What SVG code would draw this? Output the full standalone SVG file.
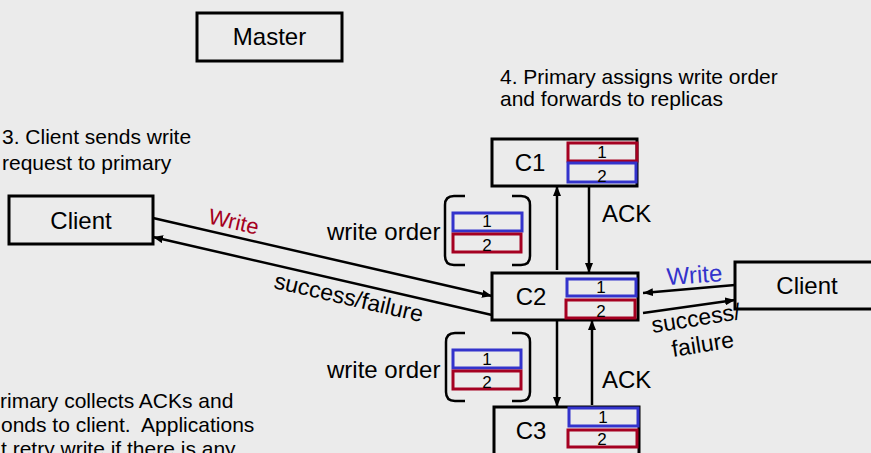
<svg xmlns="http://www.w3.org/2000/svg" width="871" height="453" viewBox="0 0 871 453">
<defs>
<marker id="ah" viewBox="0 0 10 8" refX="10" refY="4" markerWidth="10" markerHeight="8" markerUnits="userSpaceOnUse" orient="auto">
<path d="M0,0 L10,4 L0,8 Z" fill="#000"/>
</marker>
</defs>
<style>
text{font-family:"Liberation Sans",Arial,sans-serif;fill:#000}
.box{fill:none;stroke:#000;stroke-width:3}
.lbl{font-size:24px;text-anchor:middle}
.note{font-size:21px}
.blue{fill:none;stroke:#3333cc;stroke-width:3}
.red{fill:none;stroke:#a50021;stroke-width:3}
.d{font-size:17px;text-anchor:middle}
.cn{fill:none;stroke:#000;stroke-width:2.5}
.br{fill:none;stroke:#000;stroke-width:2.5}
</style>
<rect width="871" height="453" fill="#ebebeb"/>

<g id="connectors">
<path class="cn" d="M153,218 L492,296" marker-end="url(#ah)"/>
<path class="cn" d="M492,315 L153,237" marker-end="url(#ah)"/>
<path class="cn" d="M557,270 L557,186" marker-end="url(#ah)"/>
<path class="cn" d="M589,186 L589,273" marker-end="url(#ah)"/>
<path class="cn" d="M557,320 L557,407" marker-end="url(#ah)"/>
<path class="cn" d="M592,405 L592,320" marker-end="url(#ah)"/>
<path class="cn" d="M735,285 L643,293" marker-end="url(#ah)"/>
<path class="cn" d="M643,313 L735,300" marker-end="url(#ah)"/>
</g>

<g id="labels">
<text transform="translate(232,229) rotate(13)" font-size="22" text-anchor="middle" style="fill:#a50021">Write</text>
<text transform="translate(347,305) rotate(13)" font-size="23" text-anchor="middle">success/failure</text>
<text transform="translate(695,283) rotate(-4)" font-size="24" text-anchor="middle" style="fill:#3333cc">Write</text>
<text transform="translate(697,326) rotate(-9)" font-size="23" text-anchor="middle">success/</text>
<text transform="translate(704,352) rotate(-9)" font-size="23" text-anchor="middle">failure</text>
<text class="lbl" x="602" y="222" text-anchor="start" style="text-anchor:start">ACK</text>
<text class="lbl" x="602" y="388" style="text-anchor:start">ACK</text>
</g>

<g id="master">
<rect class="box" x="197" y="13" width="145" height="48"/>
<text class="lbl" x="269.5" y="45">Master</text>
</g>

<g id="client-left">
<rect class="box" x="9" y="196" width="144" height="48"/>
<text class="lbl" x="81" y="229">Client</text>
</g>

<g id="client-right">
<rect class="box" x="735" y="262" width="145" height="47"/>
<text class="lbl" x="807" y="294">Client</text>
</g>

<g id="c1">
<rect class="box" x="492" y="139" width="145" height="47"/>
<text class="lbl" x="530" y="171">C1</text>
<rect class="red" x="568" y="143" width="69" height="18"/>
<text class="d" x="602" y="158">1</text>
<rect class="blue" x="568" y="163" width="68" height="19"/>
<text class="d" x="602" y="182">2</text>
</g>

<g id="c2">
<rect class="box" x="492" y="273" width="146" height="47"/>
<text class="lbl" x="531" y="305">C2</text>
<rect class="blue" x="567" y="279" width="69" height="17"/>
<text class="d" x="601" y="293">1</text>
<rect class="red" x="566" y="300" width="69" height="18"/>
<text class="d" x="601" y="317">2</text>
</g>

<g id="c3">
<rect class="box" x="494" y="407" width="145" height="60"/>
<text class="lbl" x="531" y="439">C3</text>
<rect class="blue" x="569" y="408" width="69" height="18"/>
<text class="d" x="603" y="423">1</text>
<rect class="red" x="568" y="430" width="69" height="17"/>
<text class="d" x="602" y="445">2</text>
</g>

<g id="write-order-top">
<text class="lbl" x="327" y="240" style="text-anchor:start">write order</text>
<path class="br" d="M465,196 L454,196 Q445,196 445,205 L445,256 Q445,265 454,265 L465,265"/>
<path class="br" d="M512,196 L521,196 Q530,196 530,205 L530,256 Q530,265 521,265 L512,265"/>
<rect class="blue" x="453" y="213" width="69" height="18"/>
<text class="d" x="487" y="227">1</text>
<rect class="red" x="453" y="234" width="68" height="18"/>
<text class="d" x="487" y="251">2</text>
</g>

<g id="write-order-bottom">
<text class="lbl" x="327" y="378" style="text-anchor:start">write order</text>
<path class="br" d="M465,333 L455,333 Q446,333 446,342 L446,392 Q446,401 455,401 L465,401"/>
<path class="br" d="M512,333 L521,333 Q530,333 530,342 L530,392 Q530,401 521,401 L512,401"/>
<rect class="blue" x="453" y="350" width="68" height="18"/>
<text class="d" x="487" y="365">1</text>
<rect class="red" x="453" y="371" width="68" height="18"/>
<text class="d" x="487" y="388">2</text>
</g>

<g id="notes">
<text class="note" x="2" y="144">3. Client sends write</text>
<text class="note" x="2" y="170">request to primary</text>
<text class="note" x="500" y="84">4. Primary assigns write order</text>
<text class="note" x="500" y="106">and forwards to replicas</text>
<text class="note" x="0" y="408" xml:space="preserve">rimary collects ACKs and</text>
<text class="note" x="1" y="432" xml:space="preserve">onds to client.  Applications</text>
<text class="note" x="1" y="456" xml:space="preserve">t retry write if there is any</text>
</g>
</svg>
